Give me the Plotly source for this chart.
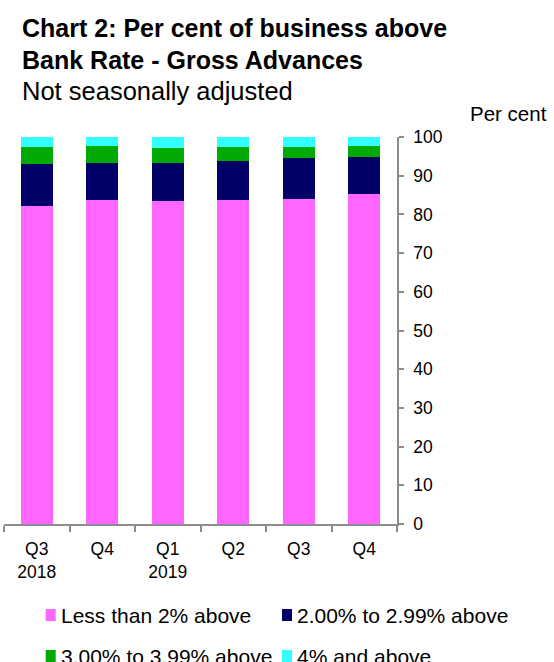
import plotly.graph_objects as go

# Quarters shown on the x axis and their tick labels
quarters = ["2018 Q3", "2018 Q4", "2019 Q1", "2019 Q2", "2019 Q3", "2019 Q4"]
tick_labels = ["Q3<br>2018", "Q4", "Q1<br>2019", "Q2", "Q3", "Q4"]

# Share of gross advances by margin above Bank Rate (per cent)
less_than_2 = [82.3, 83.8, 83.4, 83.7, 84.0, 85.3]
from_2_to_2_99 = [10.6, 9.6, 9.9, 10.1, 10.5, 9.6]
from_3_to_3_99 = [4.6, 4.3, 3.9, 3.7, 3.0, 2.8]
four_and_above = [2.5, 2.3, 2.8, 2.5, 2.5, 2.3]

series_names = ["Less than 2% above", "2.00% to 2.99% above",
                "3.00% to 3.99% above", "4% and above"]
series_values = [less_than_2, from_2_to_2_99, from_3_to_3_99, four_and_above]
series_colors = ["#FF66FF", "#000066", "#00AA00", "#33FFFF"]

FONT = "Arial, Liberation Sans, sans-serif"
W, H = 554, 662
M_L, M_R, M_T, M_B = 4, 157, 137, 138
PW, PH = W - M_L - M_R, H - M_T - M_B


def px(x):
    return (x - M_L) / PW


def py(y):
    return (H - M_B - y) / PH


x_pos = list(range(len(quarters)))

fig = go.Figure()
for name, vals, col in zip(series_names, series_values, series_colors):
    fig.add_trace(go.Bar(
        x=x_pos, y=vals, name=name, width=0.49,
        marker=dict(color=col, line=dict(width=0)),
        customdata=quarters,
        hovertemplate="%{customdata}: %{y:.1f}%<extra>" + name + "</extra>",
        showlegend=False,
    ))

annotations = [
    dict(text="<b>Chart 2: Per cent of business above</b>", x=px(20), y=py(28),
         font=dict(size=25, color="black")),
    dict(text="<b>Bank Rate - Gross Advances</b>", x=px(20), y=py(60),
         font=dict(size=25, color="black")),
    dict(text="Not seasonally adjusted", x=px(20), y=py(91),
         font=dict(size=25.5, color="black")),
    dict(text="Per cent", x=px(468), y=py(114),
         font=dict(size=20.5, color="black")),
]
for a in annotations:
    a.update(xref="paper", yref="paper", xanchor="left", yanchor="middle",
             showarrow=False)

# Legend drawn as swatches with labels, two per row
legend_slots = [(45.7, 615), (282, 615), (45.7, 656), (282, 656)]
shapes = []
for (lx, ly), name, col in zip(legend_slots, series_names, series_colors):
    shapes.append(dict(type="rect", xref="paper", yref="paper",
                       x0=px(lx), x1=px(lx + 10), y0=py(ly + 6), y1=py(ly - 6),
                       fillcolor=col, line=dict(width=0)))
    annotations.append(dict(text=name, xref="paper", yref="paper",
                            x=px(lx + 13), y=py(ly), xanchor="left",
                            yanchor="middle", showarrow=False,
                            font=dict(size=21, color="black")))

fig.update_layout(
    barmode="stack",
    width=W, height=H,
    margin=dict(l=M_L, r=M_R, t=M_T, b=M_B, pad=0),
    paper_bgcolor="white", plot_bgcolor="white",
    font=dict(family=FONT, color="black"),
    annotations=annotations,
    shapes=shapes,
    xaxis=dict(
        range=[-0.5, len(quarters) - 0.5],
        tickmode="array", tickvals=x_pos, ticktext=tick_labels,
        ticks="", showgrid=False, zeroline=False,
        showline=True, linecolor="#8C8C8C", linewidth=1.5,
        tickfont=dict(size=17.5, color="black"),
        ticklabelstandoff=8,
        minor=dict(tickmode="array",
                   tickvals=[i - 0.5 for i in range(len(quarters) + 1)],
                   ticks="outside", ticklen=6, tickcolor="#8C8C8C",
                   tickwidth=1.5, showgrid=False),
        fixedrange=True,
    ),
    yaxis=dict(
        range=[0, 100], dtick=10, side="right",
        ticks="outside", ticklen=5, tickcolor="#8C8C8C", tickwidth=1.5,
        showline=True, linecolor="#8C8C8C", linewidth=1.5,
        showgrid=False, zeroline=False,
        tickfont=dict(size=17.5, color="black"),
        ticklabelstandoff=6,
        fixedrange=True,
    ),
)

fig.write_html("out.html")
